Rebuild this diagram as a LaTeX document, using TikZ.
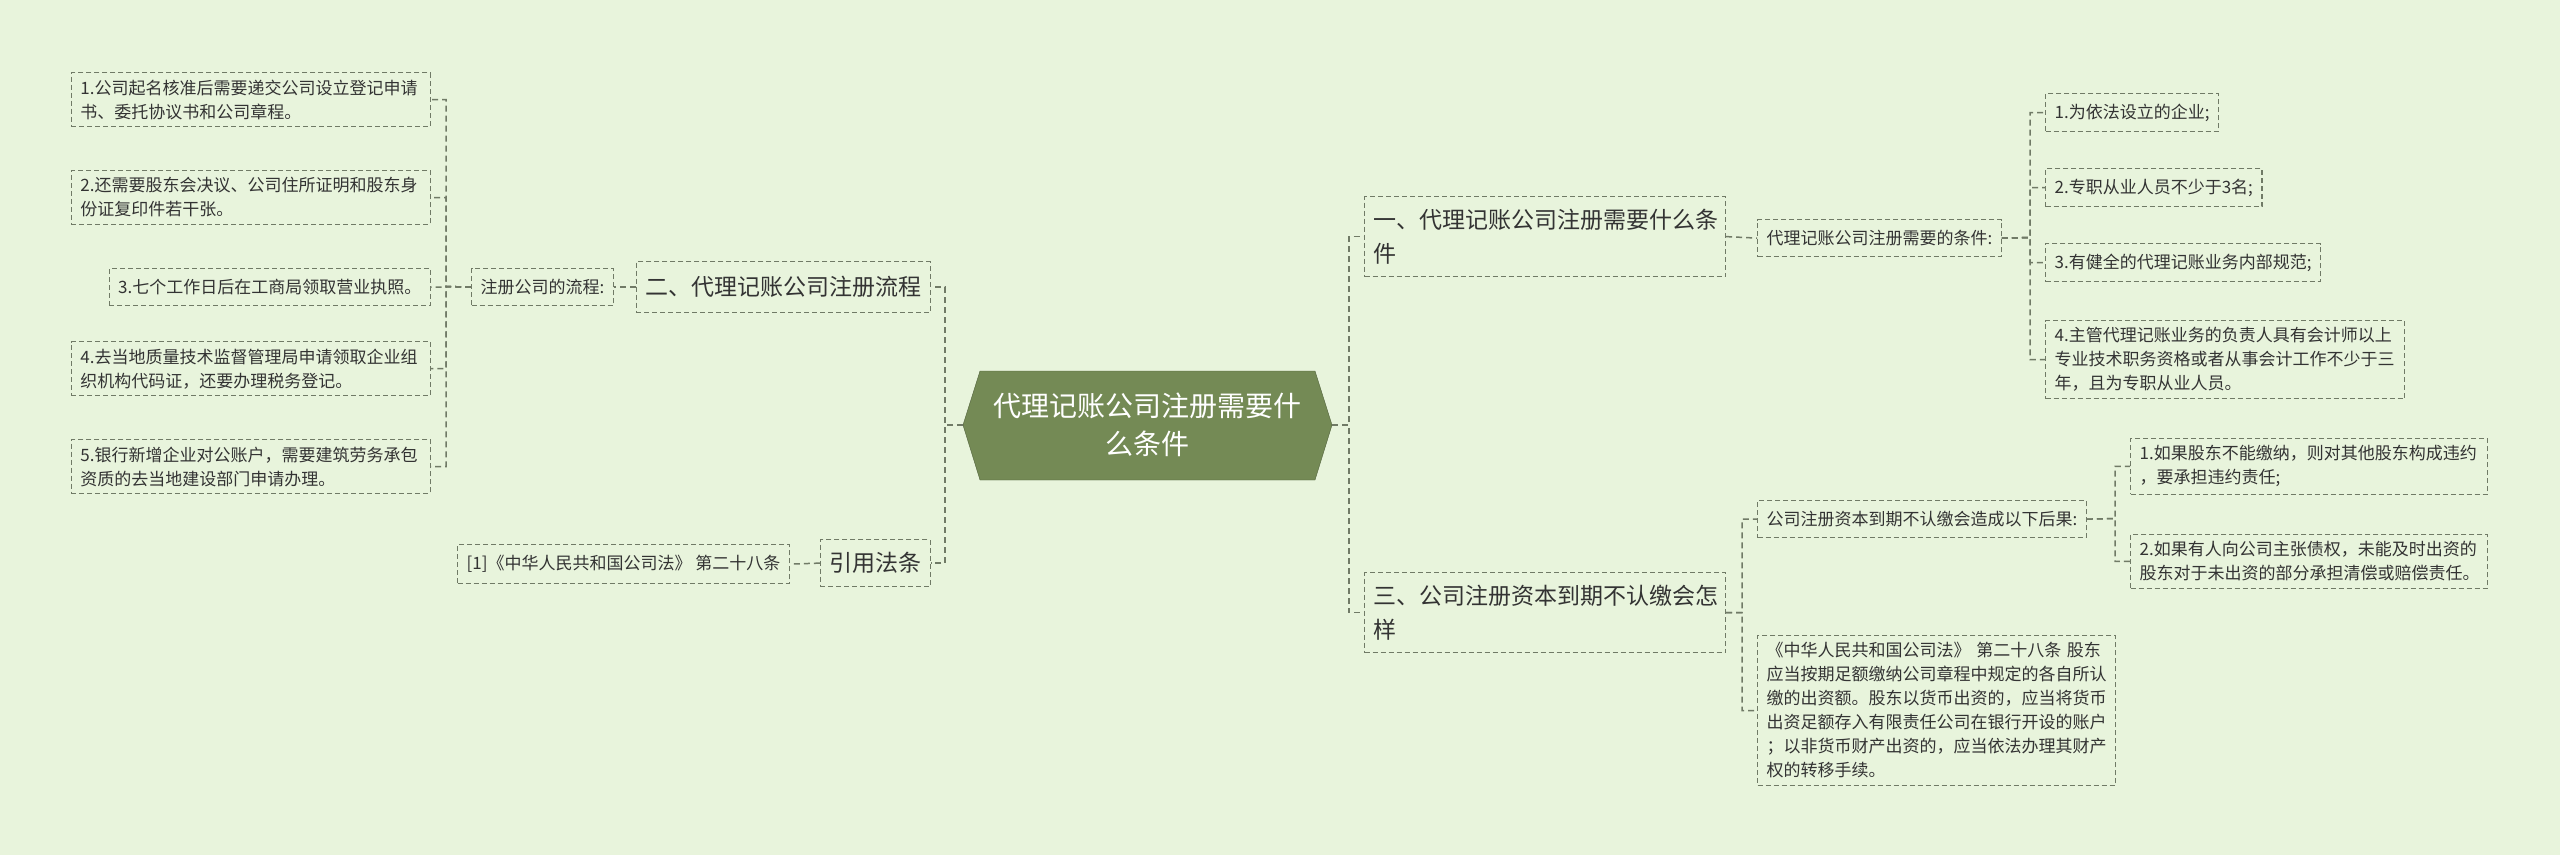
\documentclass[tikz,border=0pt]{standalone}
\usepackage{fontspec}
\setmainfont{Noto Sans CJK SC}
\definecolor{bg}{HTML}{E8F4DC}
\definecolor{olive}{HTML}{748A55}
\definecolor{ln}{HTML}{707A66}
\definecolor{tx}{HTML}{333333}
\begin{document}
\begin{tikzpicture}[x=1pt,y=-1pt,
  box/.style={draw=ln,dashed,dash pattern=on 5pt off 3pt,line width=1.2pt,anchor=north west,inner xsep=9pt,inner ysep=7pt,align=left,text=tx,font=\fontsize{17}{24}\selectfont},
  big/.style={box,font=\fontsize{23}{34}\selectfont},
  con/.style={draw=ln,dashed,dash pattern=on 6pt off 4pt,line width=1.5pt}]
\fill[bg] (0,0) rectangle (2560,855);
\useasboundingbox (0,0) rectangle (2560,855);
% center
\fill[olive,draw=olive!70!black] (963,425) -- (980,371) -- (1315,371) -- (1332,425) -- (1315,480) -- (980,480) -- cycle;
\node[text=white,align=center,font=\fontsize{28}{38}\selectfont] (c) at (1147,425) {代理记账公司注册需要什\\么条件};
\coordinate (cR) at (1332,425); \coordinate (cL) at (963,425);
% right branch 1
\node[big,text width=343pt,minimum height=80pt] (b1) at (1364,196) {一、代理记账公司注册需要什么条\\件};
\node[box,minimum height=37pt] (s1) at (1757,219) {代理记账公司注册需要的条件:};
\node[box,minimum height=38pt] (l1) at (2045,93) {1.为依法设立的企业;};
\node[box,minimum height=38pt] (l2) at (2045,168) {2.专职从业人员不少于3名;};
\node[box,minimum height=38pt] (l3) at (2045,243) {3.有健全的代理记账业务内部规范;};
\node[box,text width=341pt] (l4) at (2045,320) {4.主管代理记账业务的负责人具有会计师以上\\专业技术职务资格或者从事会计工作不少于三\\年，且为专职从业人员。};
% right branch 3
\node[big,text width=343pt,minimum height=80pt] (b3) at (1364,572) {三、公司注册资本到期不认缴会怎\\样};
\node[box,minimum height=37pt] (s3) at (1757,500) {公司注册资本到期不认缴会造成以下后果:};
\node[box,text width=339pt] (m1) at (2130,438) {1.如果股东不能缴纳，则对其他股东构成违约\\，要承担违约责任;};
\node[box,text width=339pt] (m2) at (2130,534) {2.如果有人向公司主张债权，未能及时出资的\\股东对于未出资的部分承担清偿或赔偿责任。};
\node[box,text width=340pt] (law) at (1757,635) {《中华人民共和国公司法》 第二十八条 股东\\应当按期足额缴纳公司章程中规定的各自所认\\缴的出资额。股东以货币出资的，应当将货币\\出资足额存入有限责任公司在银行开设的账户\\；以非货币财产出资的，应当依法办理其财产\\权的转移手续。};
% left
\node[big,minimum height=51pt,anchor=north east] (b2) at (931,261) {二、代理记账公司注册流程};
\node[box,minimum height=37pt,anchor=north east] (s2) at (614,268) {注册公司的流程:};
\node[box,text width=341pt,anchor=north east] (k1) at (431,72) {1.公司起名核准后需要递交公司设立登记申请\\书、委托协议书和公司章程。};
\node[box,text width=341pt,anchor=north east] (k2) at (431,170) {2.还需要股东会决议、公司住所证明和股东身\\份证复印件若干张。};
\node[box,minimum height=37pt,anchor=north east] (k3) at (431,268) {3.七个工作日后在工商局领取营业执照。};
\node[box,text width=341pt,anchor=north east] (k4) at (431,341) {4.去当地质量技术监督管理局申请领取企业组\\织机构代码证，还要办理税务登记。};
\node[box,text width=341pt,anchor=north east] (k5) at (431,439) {5.银行新增企业对公账户，需要建筑劳务承包\\资质的去当地建设部门申请办理。};
\node[big,minimum height=47pt,anchor=north east] (b4) at (931,539) {引用法条};
\node[box,minimum height=39pt,anchor=north east] (r1) at (790,544) {[1]《中华人民共和国公司法》 第二十八条};
% connectors right
\foreach \t in {b1,b3} \draw[con] (cR) -- (1349,425) |- (\t.west);
\draw[con] (b1.east) -- (s1.west);
\foreach \t in {l1,l2,l3,l4} \draw[con] (s1.east) -- (2030,237.5) |- (\t.west);
\foreach \t in {s3,law} \draw[con] (b3.east) -- (1742,612.5) |- (\t.west);
\foreach \t in {m1,m2} \draw[con] (s3.east) -- (2115,518.5) |- (\t.west);
% connectors left
\foreach \t in {b2,b4} \draw[con] (cL) -- (945,425) |- (\t.east);
\draw[con] (b2.west) -- (s2.east);
\foreach \t in {k1,k2,k3,k4,k5} \draw[con] (s2.west) -- (446,286.5) |- (\t.east);
\draw[con] (b4.west) -- (r1.east);
\end{tikzpicture}
\end{document}
